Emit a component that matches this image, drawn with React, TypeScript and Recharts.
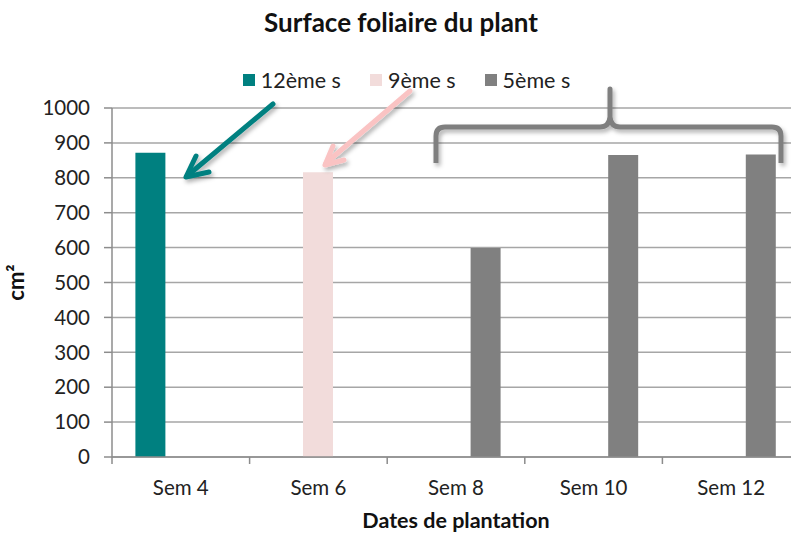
import { type FC } from "react"

import {
  Bar,
  BarChart,
  CartesianGrid,
  Label,
  Legend,
  XAxis,
  YAxis,
} from "recharts"

const categories = ["Sem 4", "Sem 6", "Sem 8", "Sem 10", "Sem 12"]
const week12 = [872, null, null, null, null]
const week9 = [null, 816, null, null, null]
const week5 = [null, null, 599, 865, 867]
const yTicks = [0, 100, 200, 300, 400, 500, 600, 700, 800, 900, 1000]

const seriesDefs = [
  { key: "w12", name: "12ème s", color: "#008080" },
  { key: "w9", name: "9ème s", color: "#f2dcdb" },
  { key: "w5", name: "5ème s", color: "#808080" },
]

const data = categories.map((cat, i) => ({
  cat,
  w12: week12[i],
  w9: week9[i],
  w5: week5[i],
}))

const FONT = "Lato, 'Open Sans', sans-serif"
const AXIS = "#8c8c8c"

const XTick: FC<any> = ({ x, y, payload }) => {
  const half = payload?.offset ?? 0
  return (
    <g>
      <line x1={x - half} x2={x - half} y1={y} y2={y + 7} stroke={AXIS} strokeWidth={1.5} />
      <text
        x={x}
        y={y + 38}
        textAnchor="middle"
        fontSize={20.5}
        fontFamily={FONT}
        fill="#222"
      >
        {payload.value}
      </text>
    </g>
  )
}

const LegendBox: FC = () => (
  <div
    style={{
      display: "flex",
      justifyContent: "center",
      gap: 29,
      fontFamily: FONT,
      fontSize: 21.5,
      color: "#222",
      paddingLeft: 22,
    }}
  >
    {seriesDefs.map(s => (
      <div key={s.key} style={{ display: "flex", alignItems: "center" }}>
        <span
          style={{
            width: 12,
            height: 12,
            background: s.color,
            display: "inline-block",
            marginRight: 6,
          }}
        />
        {s.name}
      </div>
    ))}
  </div>
)

const Annotations: FC = () => (
  <svg
    width={791}
    height={535}
    style={{ position: "absolute", left: 0, top: 0, pointerEvents: "none" }}
  >
    <defs>
      <filter id="shadow" x="-20%" y="-20%" width="140%" height="140%">
        <feDropShadow dx="2" dy="3" stdDeviation="2" floodColor="#000" floodOpacity="0.3" />
      </filter>
    </defs>
    <g filter="url(#shadow)" fill="none" strokeLinecap="round" strokeLinejoin="round">
      {/* teal arrow */}
      <g stroke="#008080" strokeWidth={5}>
        <line x1={273} y1={104} x2={187} y2={176} />
        <polyline points="196,156 186,177 209,172" />
      </g>
      {/* pink arrow */}
      <g stroke="#fac3c3" strokeWidth={5}>
        <line x1={410} y1={91} x2={326} y2={163} />
        <polyline points="333,146 325,165 344,160" />
      </g>
      {/* brace over the 5ème s bars */}
      <path
        d="M436,163 L436,136 Q436,127 445,127 L600,127 Q609,127 610,117 L610,89 L610,117 Q611,127 620,127 L772,127 Q781,127 781,136 L781,163"
        stroke="#7f7f7f"
        strokeWidth={5}
        strokeLinecap="butt"
      />
    </g>
  </svg>
)

export default function App() {
  return (
    <div
      style={{
        position: "absolute",
        left: 0,
        top: 0,
        width: 791,
        height: 535,
        overflow: "hidden",
        background: "#fff",
      }}
    >
      <div
        style={{
          position: "absolute",
          top: 6,
          width: 791,
          textAlign: "center",
          fontFamily: FONT,
          fontWeight: 700,
          fontSize: 26,
          color: "#111",
          paddingLeft: 11,
          boxSizing: "border-box",
        }}
      >
        Surface foliaire du plant
      </div>
      <BarChart
        width={806}
        height={535}
        data={data}
        margin={{ top: 108, right: 6, bottom: 0, left: 0 }}
        barGap={0}
        barCategoryGap="17%"
      >
        <CartesianGrid vertical={false} stroke="#a6a6a6" strokeWidth={1.5} />
        <XAxis
          dataKey="cat"
          height={78}
          stroke={AXIS}
          strokeWidth={1.5}
          tickLine={false}
          tickSize={0}
          tickMargin={0}
          tick={<XTick />}
          interval={0}
        >
          <Label
            value="Dates de plantation"
            position="insideBottom"
            offset={7}
            style={{ fontFamily: FONT, fontWeight: 700, fontSize: 21.5, fill: "#111" }}
          />
        </XAxis>
        <YAxis
          width={112}
          domain={[0, 1000]}
          ticks={yTicks}
          interval={0}
          stroke={AXIS}
          strokeWidth={1.5}
          tickSize={8}
          tickMargin={14}
          tick={{ fontFamily: FONT, fontSize: 20.5, fill: "#222" }}
        >
          <Label
            value="cm²"
            angle={-90}
            position="insideLeft"
            offset={16}
            style={{ fontFamily: FONT, fontWeight: 700, fontSize: 22, fill: "#111", textAnchor: "middle" }}
          />
        </YAxis>
        <Legend
          layout="horizontal"
          verticalAlign="middle"
          align="center"
          wrapperStyle={{ top: 67, left: 0, width: 791 }}
          content={<LegendBox />}
        />
        {seriesDefs.map(s => (
          <Bar
            key={s.key}
            dataKey={s.key}
            name={s.name}
            fill={s.color}
            isAnimationActive={false}
          />
        ))}
      </BarChart>
      <Annotations />
    </div>
  )
}
